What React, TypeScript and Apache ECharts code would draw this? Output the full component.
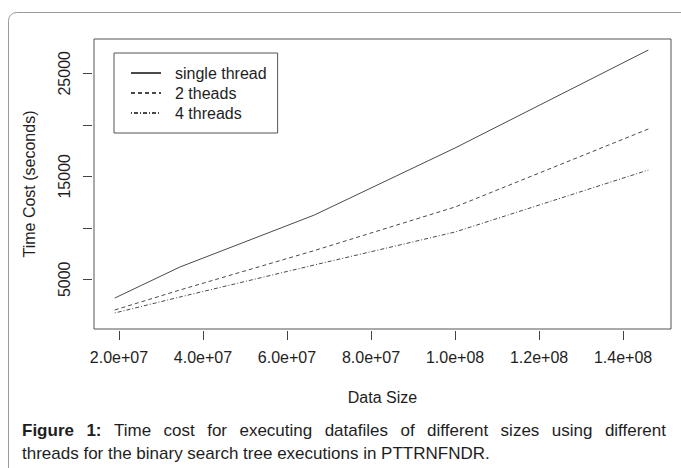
import React, { useEffect, useRef } from "react";
import * as echarts from "echarts";

const dataSizes = [1.9e7, 3.45e7, 6.65e7, 1.0e8, 1.46e8];
const singleThread = [3180, 6190, 11240, 17750, 27260];
const twoThreads = [2020, 3960, 7790, 12020, 19590];
const fourThreads = [1730, 3280, 6390, 9590, 15610];
const seriesNames = ["single thread", "2 theads", "4 threads"];
const xTickValues = [2e7, 4e7, 6e7, 8e7, 1e8, 1.2e8, 1.4e8];
const xTickLabels = ["2.0e+07", "4.0e+07", "6.0e+07", "8.0e+07", "1.0e+08", "1.2e+08", "1.4e+08"];
const yTickValues = [5000, 10000, 15000, 20000, 25000];
const yLabelValues = [5000, 15000, 25000];
const yTickLabels = ["5000", "15000", "25000"];
const xAxisTitle = "Data Size";
const yAxisTitle = "Time Cost (seconds)";
const captionBold = "Figure 1:";
const captionLine1 = "Time cost for executing datafiles of different sizes using different";
const captionLine2 = "threads for the binary search tree executions in PTTRNFNDR.";

const FONT = "'Liberation Sans', Arial, sans-serif";
const TEXT = "#1e1e1e";
const LINE = "#4a4a4a";

function measure(text: string, weight: string, size: number) {
  const ctx = document.createElement("canvas").getContext("2d")!;
  ctx.font = `${weight} ${size}px 'Liberation Sans'`;
  return ctx.measureText(text).width;
}

function captionGraphics() {
  const size = 17;
  const x0 = 22;
  const x1 = 666;
  const tokens: { t: string; b: boolean }[] = [];
  captionBold.split(" ").forEach((t) => tokens.push({ t, b: true }));
  captionLine1.split(" ").forEach((t) => tokens.push({ t, b: false }));
  const widths = tokens.map((k) => measure(k.t, k.b ? "bold" : "normal", size));
  const total = widths.reduce((a, b) => a + b, 0);
  const gap = (x1 - x0 - total) / (tokens.length - 1);
  const els: any[] = [];
  let x = x0;
  tokens.forEach((k, i) => {
    els.push({
      type: "text",
      x,
      y: 430,
      style: {
        text: k.t,
        fontSize: size,
        fontFamily: FONT,
        fontWeight: k.b ? "bold" : "normal",
        fill: TEXT,
        verticalAlign: "middle",
      },
    });
    x += widths[i] + gap;
  });
  els.push({
    type: "text",
    x: x0,
    y: 453,
    style: {
      text: captionLine2,
      fontSize: size,
      fontFamily: FONT,
      fill: TEXT,
      verticalAlign: "middle",
    },
  });
  return els;
}

export default function App() {
  const ref = useRef<HTMLDivElement>(null);
  useEffect(() => {
    const chart = echarts.init(ref.current!, null, { renderer: "svg" });
    const mk = (name: string, ys: number[], type: any) => ({
      name,
      type: "line",
      data: dataSizes.map((x, i) => [x, ys[i]]),
      symbol: "none",
      showSymbol: false,
      lineStyle: { color: LINE, width: 1, type },
      itemStyle: { color: LINE },
    });
    chart.setOption({
      animation: false,
      backgroundColor: "#ffffff",
      grid: { left: 94, top: 39, right: 10, bottom: 139, show: true, borderColor: "#555", borderWidth: 1 },
      legend: {
        left: 114,
        top: 53,
        orient: "vertical",
        padding: [12, 11, 12, 16],
        itemWidth: 30,
        itemHeight: 16,
        itemGap: 4,
        borderColor: "#555",
        borderWidth: 1,
        data: seriesNames,
        itemStyle: { opacity: 0 },
        textStyle: { fontSize: 16, fontFamily: FONT, color: TEXT, padding: [0, 0, 0, 9] },
      },
      xAxis: {
        type: "value",
        min: 1.406e7,
        max: 1.514e8,
        offset: 2,
        axisLine: { show: false },
        splitLine: { show: false },
        axisTick: { show: true, length: 9, customValues: xTickValues, lineStyle: { color: "#444" } },
        axisLabel: {
          customValues: xTickValues,
          margin: 18,
          fontSize: 16,
          fontFamily: FONT,
          color: TEXT,
          formatter: (v: number) => {
            const i = xTickValues.findIndex((t) => Math.abs(t - v) < 1);
            return i >= 0 ? xTickLabels[i] : "";
          },
        },
        name: xAxisTitle,
        nameLocation: "middle",
        nameGap: 58,
        nameTextStyle: { fontSize: 16, fontFamily: FONT, color: TEXT },
      },
      yAxis: {
        type: "value",
        min: 175,
        max: 28330,
        offset: 2,
        axisLine: { show: false },
        splitLine: { show: false },
        axisTick: { show: true, length: 9, customValues: yTickValues, lineStyle: { color: "#444" } },
        axisLabel: {
          customValues: yLabelValues,
          rotate: 90,
          margin: 20,
          fontSize: 16,
          fontFamily: FONT,
          color: TEXT,
          formatter: (v: number) => {
            const i = yLabelValues.findIndex((t) => Math.abs(t - v) < 0.5);
            return i >= 0 ? yTickLabels[i] : "";
          },
        },
        name: yAxisTitle,
        nameLocation: "middle",
        nameRotate: 90,
        nameGap: 55,
        nameTextStyle: { fontSize: 16, fontFamily: FONT, color: TEXT },
      },
      series: [
        mk(seriesNames[0], singleThread, "solid"),
        mk(seriesNames[1], twoThreads, [4, 3]),
        mk(seriesNames[2], fourThreads, [1, 2, 4, 2]),
      ],
      graphic: [
        {
          type: "rect",
          shape: { x: 8.5, y: 12.5, width: 720, height: 520, r: 8 },
          style: { fill: "none", stroke: "#9a9a9a", lineWidth: 1 },
          silent: true,
        },
        ...captionGraphics(),
      ],
    });
    return () => chart.dispose();
  }, []);
  return <div ref={ref} style={{ position: "absolute", left: 0, top: 0, width: 681, height: 468 }} />;
}
